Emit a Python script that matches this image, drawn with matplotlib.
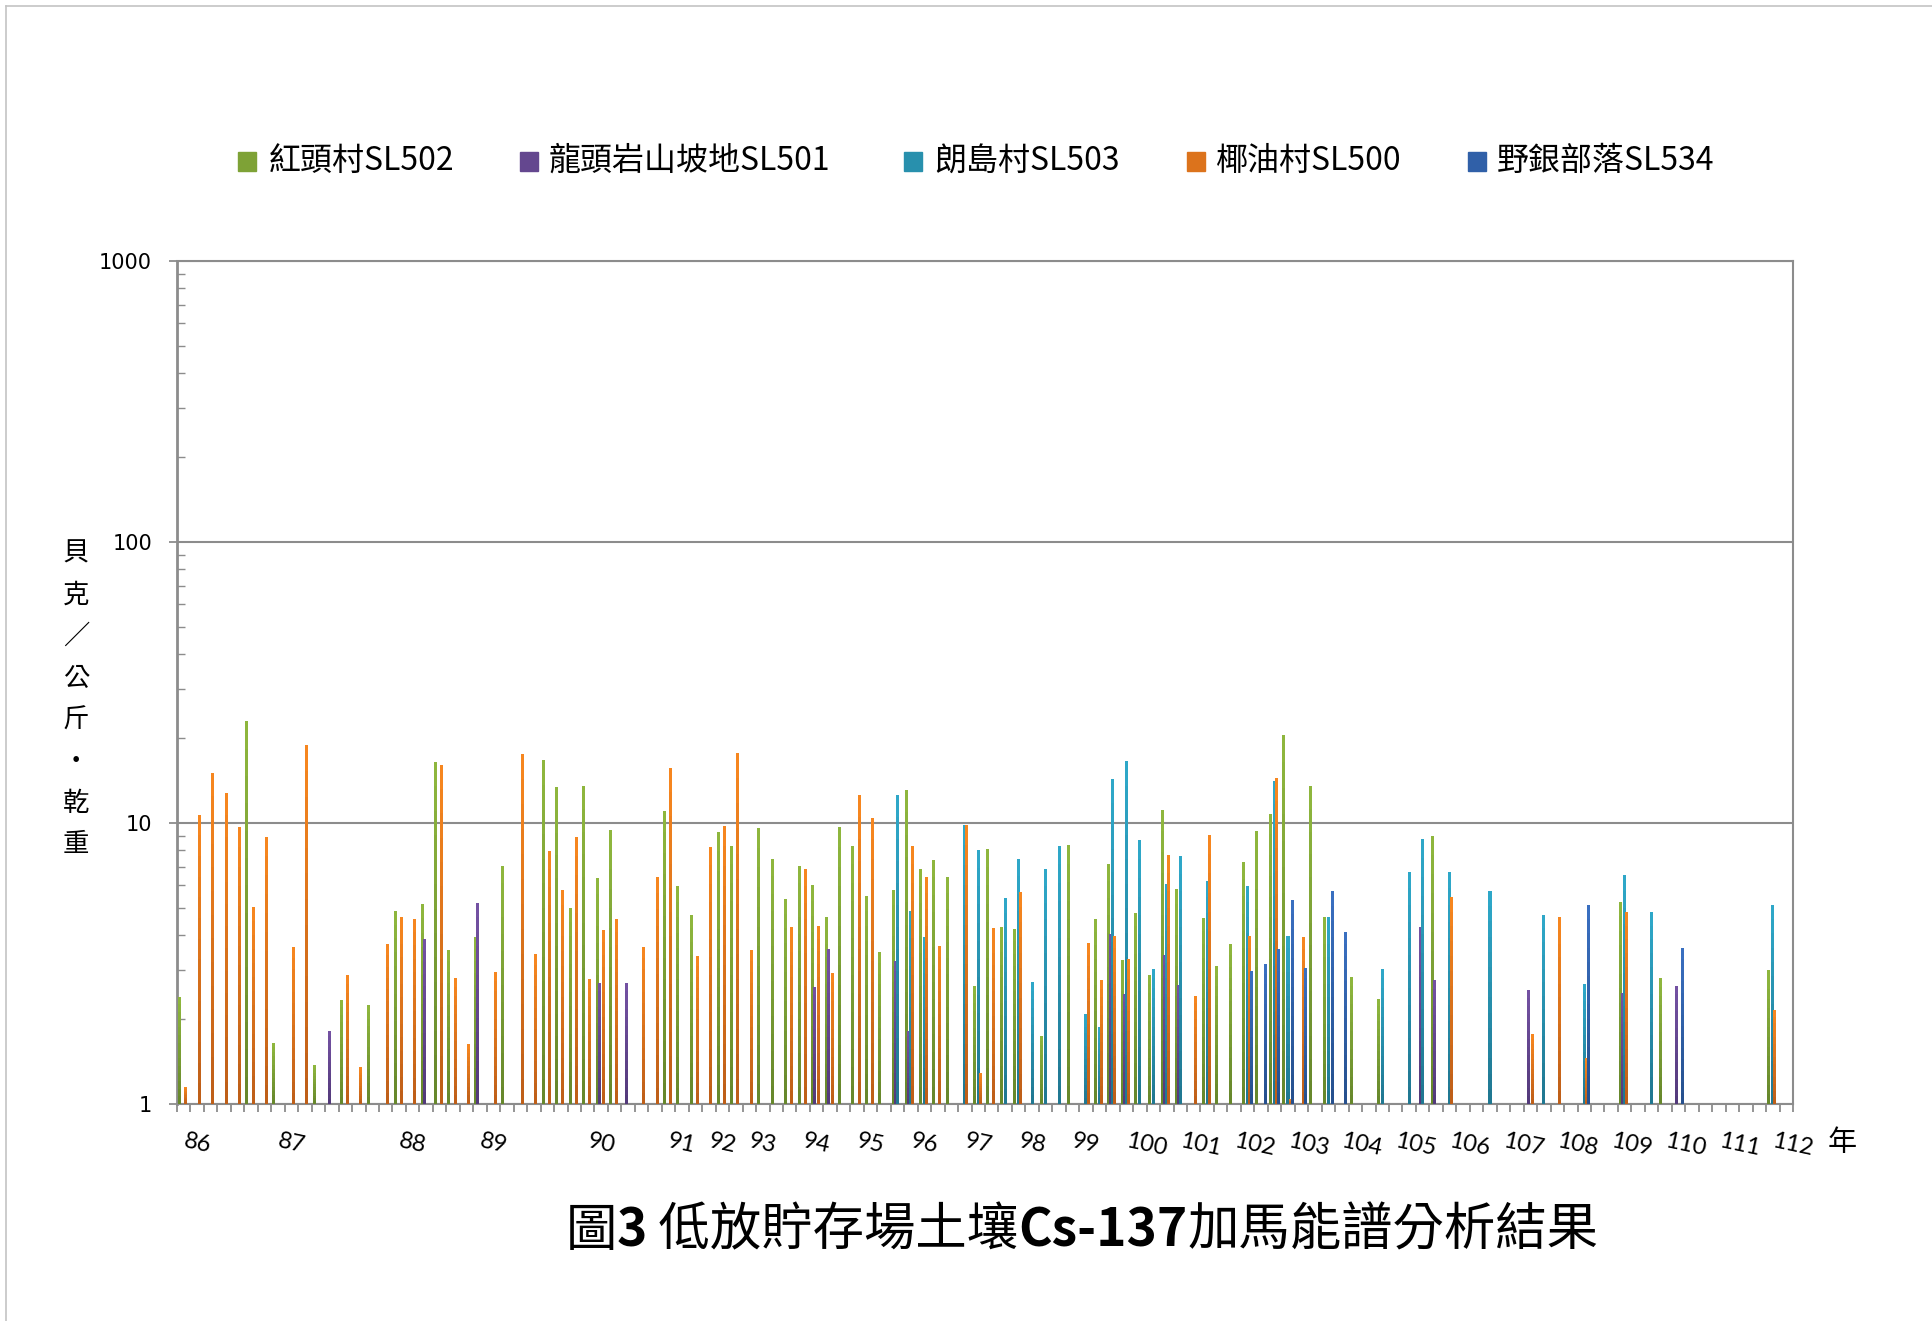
import matplotlib
matplotlib.use("Agg")
import matplotlib.pyplot as plt
import matplotlib.transforms as mtransforms
import numpy as np
from matplotlib.colors import to_rgb
from matplotlib.lines import Line2D
from matplotlib.patches import Rectangle
from matplotlib.ticker import LogLocator, NullFormatter

plt.rcParams['font.family'] = ['Noto Sans CJK TC', 'DejaVu Sans']

# ---- data (one value per sampling, 0 = no sample / below 1) ----
series_names = ["紅頭村SL502", "龍頭岩山坡地SL501", "朗島村SL503", "椰油村SL500", "野銀部落SL534"]

green = [2.41, 0, 0, 0, 0, 23.0, 0, 1.65, 0, 0,
         1.38, 0, 2.35, 0, 2.25, 0, 4.87, 0, 5.15, 16.5,
         3.54, 0, 3.93, 0, 7.03, 0, 0, 16.7, 13.4, 4.99,
         13.5, 6.37, 9.44, 0, 0, 0, 11.0, 5.97, 4.71, 0,
         9.29, 8.28, 0, 9.6, 7.45, 5.37, 7.03, 6.02, 4.63, 9.68,
         8.28, 5.5, 3.48, 5.78, 13.1, 6.86, 7.39, 6.43, 0, 2.63,
         8.08, 4.27, 4.2, 0, 1.75, 0, 8.35, 0, 4.56, 7.15,
         3.26, 4.79, 2.88, 11.1, 5.83, 0, 4.6, 3.1, 3.72, 7.27,
         9.37, 10.8, 20.5, 0, 13.5, 4.63, 0, 2.84, 0, 2.37,
         0, 0, 0, 8.99, 0, 0, 0, 0, 0, 0,
         0, 0, 0, 0, 0, 0, 0, 5.24, 0, 0,
         2.81, 0, 0, 0, 0, 0, 0, 0, 3.0, 0]

purple = [0, 0, 0, 0, 0, 0, 0, 0, 0, 0,
          0, 1.82, 0, 0, 0, 0, 0, 0, 3.87, 0,
          0, 0, 5.2, 0, 0, 0, 0, 0, 0, 0,
          0, 2.70, 0, 2.70, 0, 0, 0, 0, 0, 0,
          0, 0, 0, 0, 0, 0, 0, 2.61, 3.57, 0,
          0, 0, 0, 3.23, 1.82, 0, 0, 0, 0, 0,
          0, 0, 0, 0, 0, 0, 0, 0, 0, 4.03,
          2.47, 0, 0, 3.4, 2.66, 0, 0, 0, 0, 0,
          0, 0, 0, 0, 0, 0, 0, 0, 0, 0,
          0, 0, 4.27, 2.77, 0, 0, 0, 0, 0, 0,
          2.55, 0, 0, 0, 0, 0, 0, 2.49, 0, 0,
          0, 2.63, 0, 0, 0, 0, 0, 0, 0, 0]

cyan = [0, 0, 0, 0, 0, 0, 0, 0, 0, 0,
        0, 0, 0, 0, 0, 0, 0, 0, 0, 0,
        0, 0, 0, 0, 0, 0, 0, 0, 0, 0,
        0, 0, 0, 0, 0, 0, 0, 0, 0, 0,
        0, 0, 0, 0, 0, 0, 0, 0, 0, 0,
        0, 0, 0, 12.6, 4.87, 3.93, 0, 0, 9.84, 8.02,
        0, 5.41, 7.45, 2.72, 6.86, 8.28, 0, 2.09, 1.88, 14.3,
        16.6, 8.7, 3.03, 6.07, 7.63, 0, 6.22, 0, 0, 5.97,
        0, 14.1, 3.97, 0, 0, 4.63, 0, 0, 0, 3.03,
        0, 6.7, 8.77, 0, 6.7, 0, 0, 5.73, 0, 0,
        0, 4.71, 0, 0, 2.68, 0, 0, 6.53, 0, 4.83,
        0, 0, 0, 0, 0, 0, 0, 0, 5.11, 0]

orange = [1.15, 10.7, 15.1, 12.8, 9.68, 5.03, 8.92, 0, 3.63, 18.9,
          0, 0, 2.88, 1.35, 0, 3.72, 4.63, 4.56, 0, 16.1,
          2.81, 1.63, 0, 2.95, 0, 17.6, 3.42, 7.95, 5.78, 8.92,
          2.79, 4.17, 4.56, 0, 3.63, 6.43, 15.7, 0, 3.37, 8.22,
          9.76, 17.7, 3.54, 0, 0, 4.27, 6.86, 4.30, 2.93, 0,
          12.6, 10.4, 0, 0, 8.28, 6.43, 3.65, 0, 9.84, 1.29,
          4.24, 0, 5.68, 0, 0, 0, 0, 3.74, 2.77, 3.97,
          3.29, 0, 0, 7.69, 0, 2.43, 9.07, 0, 0, 3.97,
          0, 14.5, 1.04, 3.93, 0, 0, 0, 0, 0, 0,
          0, 0, 0, 0, 5.46, 0, 0, 0, 0, 0,
          1.78, 0, 4.63, 0, 1.46, 0, 0, 4.83, 0, 0,
          0, 0, 0, 0, 0, 0, 0, 0, 2.16, 0]

blue = [0, 0, 0, 0, 0, 0, 0, 0, 0, 0,
        0, 0, 0, 0, 0, 0, 0, 0, 0, 0,
        0, 0, 0, 0, 0, 0, 0, 0, 0, 0,
        0, 0, 0, 0, 0, 0, 0, 0, 0, 0,
        0, 0, 0, 0, 0, 0, 0, 0, 0, 0,
        0, 0, 0, 0, 0, 0, 0, 0, 0, 0,
        0, 0, 0, 0, 0, 0, 0, 0, 0, 0,
        0, 0, 0, 0, 0, 0, 0, 0, 0, 2.98,
        3.15, 3.57, 5.33, 3.05, 0, 5.73, 4.1, 0, 0, 0,
        0, 0, 0, 0, 0, 0, 0, 0, 0, 0,
        0, 0, 0, 0, 5.11, 0, 0, 0, 0, 0,
        0, 3.59, 0, 0, 0, 0, 0, 0, 0, 0]

year_labels = ['86', '87', '88', '89', '90', '91', '92', '93', '94', '95', '96', '97', '98', '99',
               '100', '101', '102', '103', '104', '105', '106', '107', '108', '109', '110', '111', '112']
year_cats = [1, 8, 17, 23, 31, 37, 40, 43, 47, 51, 55, 59, 63, 67,
             71, 75, 79, 83, 87, 91, 95, 99, 103, 107, 111, 115, 119]

all_series = [green, purple, cyan, orange, blue]
n_cat = len(green)

top_colors = ['#8fb83e', '#7452a3', '#2fa9ca', '#f8881f', '#3a70c2']
bot_colors = ['#66862b', '#52397a', '#1f7690', '#bd5d18', '#254f8c']
mid_colors = ['#7ea236', '#64478f', '#2890ad', '#dc731c', '#3060a8']

W, H = 1932, 1321
fig = plt.figure(figsize=(W / 100, H / 100), dpi=100)
ax = fig.add_axes([177 / W, 1 - 1104 / H, (1793 - 177) / W, (1104 - 261) / H])
ax.set_yscale('log')
ax.set_ylim(1, 1000)
ax.set_xlim(0, n_cat)

# bars, with a vertical gradient built from stacked slices
step = 0.152
width = 0.225
nseg = 14
for s, vals in enumerate(all_series):
    vals = np.array(vals, float)
    idx = np.nonzero(vals > 0)[0]
    L = np.log10(vals[idx])
    x = idx + 0.5 + (s - 2) * step
    c_top = np.array(to_rgb(top_colors[s]))
    c_bot = np.array(to_rgb(bot_colors[s]))
    for j in range(nseg):
        lo = 10 ** (L * j / nseg)
        hi = 10 ** (L * (j + 1) / nseg + (0.002 if j < nseg - 1 else 0))
        f = (j + 0.5) / nseg
        ax.bar(x, hi - lo, bottom=lo, width=width, color=c_bot * (1 - f) + c_top * f,
               linewidth=0, zorder=3 + s * 0.1)

# axes styling
gray = '#8c8c8c'
for sp in ax.spines.values():
    sp.set_color(gray)
    sp.set_linewidth(1.5)
ax.spines['left'].set_linewidth(2)
ax.set_axisbelow(True)
ax.yaxis.grid(True, which='major', color=gray, linewidth=1.5)

ax.set_xticks(np.arange(0, n_cat + 1))
ax.tick_params(axis='x', which='major', direction='out', length=5.8, width=1.3, color=gray,
               labelbottom=False)
ax.set_yticks([1, 10, 100, 1000])
ax.set_yticklabels(['1', '10', '100', '1000'], fontfamily='DejaVu Sans', fontsize=15)
ax.yaxis.set_minor_locator(LogLocator(base=10, subs=np.arange(2, 10)))
ax.yaxis.set_minor_formatter(NullFormatter())
ax.tick_params(axis='y', which='major', direction='out', length=5.5, width=1.3, color=gray, pad=12.5)
ax.tick_params(axis='y', which='minor', direction='in', length=5.5, width=1.0, color=gray)

# slanted year labels
trans = mtransforms.blended_transform_factory(ax.transData, ax.transAxes)
for lab, c in zip(year_labels, year_cats):
    ax.text(c - 0.5, -0.043, lab, transform=trans, rotation=-12, rotation_mode='anchor',
            ha='left', va='center', fontsize=17, fontfamily='Lato', clip_on=False)
fig.text(1842 / W, 1 - 1143 / H, '年', ha='center', va='center', fontsize=21)

# vertical y-axis label, one character per line
for i, ch in enumerate("貝克／公斤・乾重"):
    fig.text(76 / W, 1 - (553 + i * 41.7) / H, ch, ha='center', va='center', fontsize=19)

# legend across the top
sq_x = [247, 529, 913, 1196, 1477]
txt_x = [269, 549, 934, 1216, 1497]
for name, col, sx, tx in zip(series_names, mid_colors, sq_x, txt_x):
    fig.add_artist(Rectangle(((sx - 9) / W, 1 - 171 / H), 18 / W, 19 / H, color=col,
                             transform=fig.transFigure))
    fig.text(tx / W, 1 - 161 / H, name, ha='left', va='center', fontsize=23)

# title with bold latin parts
pieces = [("圖", 'normal'), ("3", 'bold'), (" 低放貯存場土壤", 'normal'),
          ("Cs-137", 'bold'), ("加馬能譜分析結果", 'normal')]
texts = [fig.text(0, 1 - 1231 / H, p, ha='left', va='center', fontsize=37, fontweight=w)
         for p, w in pieces]
fig.canvas.draw()
r = fig.canvas.get_renderer()
widths = [t.get_window_extent(r).width for t in texts]
x0 = 1082 - sum(widths) / 2
for t, w in zip(texts, widths):
    t.set_x(x0 / W)
    x0 += w

# outer frame of the chart area
fig.add_artist(Line2D([6 / W, 6 / W], [0, 1 - 6 / H], color='#c4c4c4', lw=1.2, transform=fig.transFigure))
fig.add_artist(Line2D([6 / W, 1], [1 - 6 / H, 1 - 6 / H], color='#c4c4c4', lw=1.2, transform=fig.transFigure))

fig.savefig("out.png", dpi=100)
